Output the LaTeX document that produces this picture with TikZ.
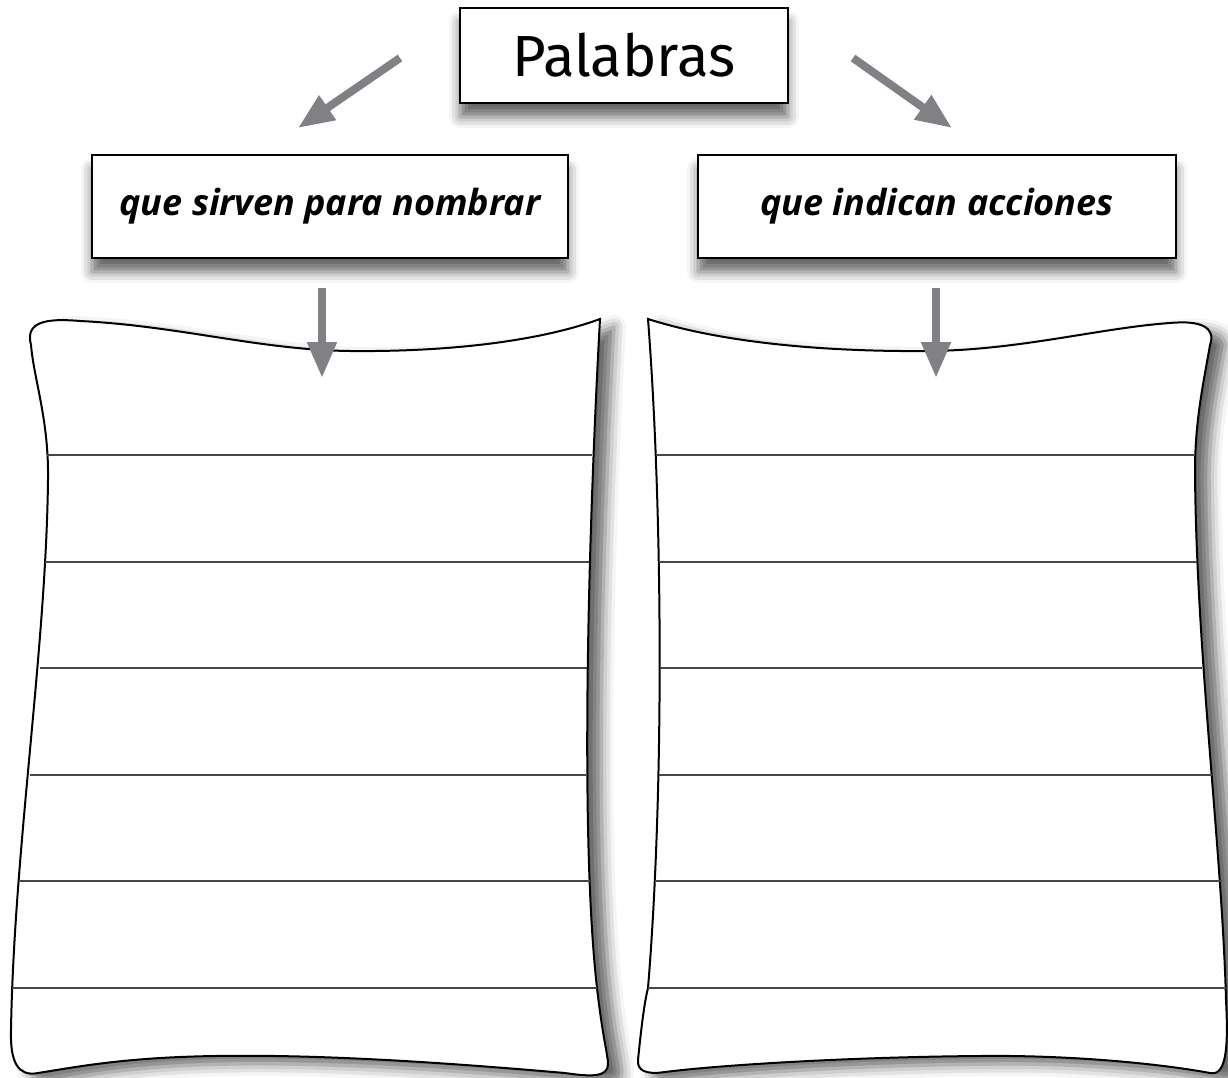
\documentclass[tikz,border=0pt]{standalone}
\usepackage{fontspec}
\setmainfont{Open Sans}
\newfontfamily\titlefont{Fira Sans}
\usetikzlibrary{arrows.meta,shadows.blur}
\definecolor{arrowgray}{RGB}{128,129,133}
\definecolor{rulegray}{RGB}{70,70,70}
\tikzset{
  wordbox/.style={draw, fill=white, line width=2.5pt, inner sep=0pt,
    blur shadow={shadow xshift=0pt, shadow yshift=-14pt, shadow blur radius=11pt, shadow opacity=60}},
  sheet/.style={draw, fill=white, line width=2pt,
    blur shadow={shadow xshift=14pt, shadow yshift=-8pt, shadow blur radius=12pt, shadow opacity=60}},
  bigarrow/.style={draw=arrowgray, line width=8pt, -{Triangle[length=36pt,width=28pt]}},
  rule/.style={draw=rulegray, line width=1.4pt}
}
\begin{document}
\begin{tikzpicture}[x=1pt,y=-1pt]
  \useasboundingbox (0,0) rectangle (1228,1078);

  % the two sheets
  \draw[sheet] (31,345) .. controls (25,322) and (45,318) .. (80,321)
    .. controls (180,326) and (260,350) .. (350,351)
    .. controls (450,352) and (540,341) .. (600,319)
    .. controls (591,480) and (578,820) .. (597,988)
    .. controls (603,1040) and (608,1055) .. (608,1064)
    .. controls (608,1077) and (592,1077) .. (565,1073)
    .. controls (450,1063) and (300,1052) .. (180,1057)
    .. controls (110,1060) and (70,1068) .. (38,1073)
    .. controls (18,1077) and (10,1062) .. (11,1030)
    .. controls (14,850) and (46,650) .. (48,480)
    .. controls (49,420) and (34,380) .. (31,345) -- cycle;
  \draw[sheet] (648,319) .. controls (720,342) and (820,352) .. (930,351)
    .. controls (1020,350) and (1100,328) .. (1170,323)
    .. controls (1202,320) and (1216,328) .. (1210,345)
    .. controls (1204,380) and (1195,420) .. (1195,470)
    .. controls (1196,650) and (1222,850) .. (1226,1000)
    .. controls (1228,1040) and (1228,1077) .. (1210,1073)
    .. controls (1150,1062) and (1060,1055) .. (980,1056)
    .. controls (850,1057) and (720,1065) .. (665,1072)
    .. controls (645,1075) and (637,1070) .. (638,1060)
    .. controls (642,1020) and (645,1000) .. (648,988)
    .. controls (665,780) and (662,500) .. (648,319) -- cycle;

  % writing lines
  \foreach \y/\xl/\xr in {455/47/592, 562/45/589, 668/40/587, 775/30/586, 881/20/590, 988/12/597}
    \draw[rule] (\xl,\y) -- (\xr,\y);
  \foreach \y/\xl/\xr in {455/656/1195, 562/659/1197, 668/660/1202, 775/659/1212, 881/655/1222, 988/648/1226}
    \draw[rule] (\xl,\y) -- (\xr,\y);

  % boxes
  \node[wordbox, minimum width=328pt, minimum height=95pt] (palabras) at (624,55.5)
    {\titlefont\fontsize{58}{62}\selectfont Palabras};
  \node[wordbox, minimum width=476pt, minimum height=103pt] (nombrar) at (330,206.5)
    {\bfseries\itshape\fontsize{36}{40}\selectfont que sirven para nombrar};
  \node[wordbox, minimum width=478pt, minimum height=103pt] (acciones) at (937,206.5)
    {\bfseries\itshape\fontsize{36}{40}\selectfont que indican acciones};

  % arrows
  \coordinate (lfrom) at (400,58);
  \coordinate (lto) at (298,128);
  \coordinate (rfrom) at (853,58);
  \coordinate (rto) at (952,128);
  \coordinate (nfrom) at (322,288);
  \coordinate (nto) at (322,378);
  \coordinate (afrom) at (936,288);
  \coordinate (ato) at (936,378);
  \draw[bigarrow] (lfrom) -- (lto);
  \draw[bigarrow] (rfrom) -- (rto);
  \draw[bigarrow] (nfrom) -- (nto);
  \draw[bigarrow] (afrom) -- (ato);
\end{tikzpicture}
\end{document}
